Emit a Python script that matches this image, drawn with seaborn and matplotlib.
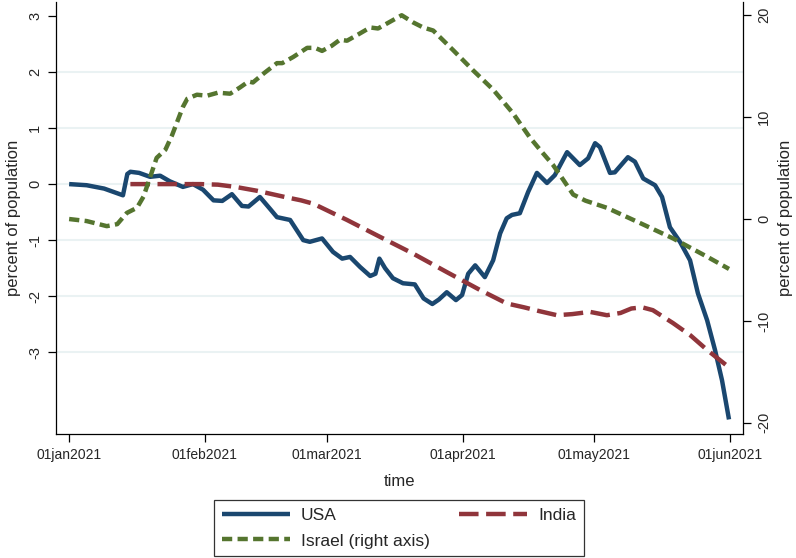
# Stata-style dual axis chart: USA / India (left) vs Israel (right)

import pandas as pd
import seaborn as sns
import matplotlib.pyplot as plt

# Data (day offset from 01jan2021, value)
usa_days = [0, 4, 8, 12.3, 13.3, 14, 16, 18.5, 20.8, 23, 26, 28.3, 30.6, 33, 35, 37.2,
            39.5, 41, 43.6, 46, 47.5, 50.5, 53.5, 55, 57.8, 60.3, 62.4, 64.2, 66.5, 68.8,
            70, 70.9, 72.2, 74, 76.3, 79, 81, 83, 84.5, 86.3, 88.4, 89.8, 91.2, 92.8, 95,
            96.9, 98.5, 100, 101.2, 103, 104.9, 106.9, 109.2, 111, 113.8, 116.7, 118.6,
            120.2, 121.3, 123.6, 124.7, 127.7, 129.3, 131.2, 133.9, 135.5, 137.3, 139.6,
            141.9, 143.7, 145.8, 147.6, 149.2, 150.8]
usa_vals = [0.0, -0.02, -0.08, -0.2, 0.18, 0.22, 0.2, 0.13, 0.15, 0.05, -0.05, 0.0, -0.1,
            -0.29, -0.3, -0.18, -0.39, -0.4, -0.23, -0.45, -0.59, -0.64, -1.0, -1.03, -0.97,
            -1.21, -1.33, -1.3, -1.48, -1.64, -1.6, -1.33, -1.5, -1.68, -1.77, -1.79, -2.04,
            -2.14, -2.06, -1.93, -2.07, -1.98, -1.6, -1.45, -1.66, -1.36, -0.88, -0.61,
            -0.55, -0.52, -0.14, 0.2, 0.02, 0.16, 0.57, 0.34, 0.46, 0.73, 0.66, 0.2, 0.21,
            0.48, 0.4, 0.1, -0.02, -0.23, -0.77, -1.03, -1.36, -1.95, -2.43, -2.96, -3.5,
            -4.2]

india_days = [14, 20, 26, 30, 34, 38, 43, 49.3, 53, 55.8, 63.5, 71, 78.6, 86.3, 93.9, 100,
              104, 107.6, 111.5, 115, 119, 122.9, 126, 128.5, 131, 133.4, 138, 142, 145.8,
              150.8]
india_vals = [0.0, 0.0, 0.0, 0.0, -0.01, -0.05, -0.12, -0.23, -0.29, -0.35, -0.64, -0.94,
              -1.24, -1.57, -1.89, -2.13, -2.2, -2.27, -2.34, -2.32, -2.28, -2.34, -2.3,
              -2.22, -2.2, -2.25, -2.48, -2.7, -2.96, -3.27]

israel_days = [0, 4, 8.6, 11, 13.2, 15.5, 17, 18.5, 20, 22, 23.5, 26, 27, 29.2, 31.5, 34,
               36.8, 39, 41, 42, 44.5, 47.5, 48.7, 51.2, 54.4, 56.2, 57.8, 60, 61.9, 63.5,
               66, 68.8, 70.6, 73.5, 76, 78.6, 80.9, 83.2, 87.7, 92.3, 96.9, 101.4, 105.3,
               108, 110.6, 113, 115.2, 118, 122.9, 130.5, 138, 145.8, 150.8]
israel_vals = [0.0, -0.2, -0.7, -0.5, 0.6, 1.1, 2.2, 4.1, 6.0, 6.8, 8.2, 11.0, 11.8, 12.2,
               12.1, 12.4, 12.3, 12.9, 13.5, 13.4, 14.3, 15.3, 15.3, 15.9, 16.8, 16.8, 16.5,
               17.0, 17.6, 17.5, 18.1, 18.8, 18.7, 19.4, 20.0, 19.3, 18.8, 18.5, 16.6, 14.6,
               12.7, 10.4, 8.0, 6.6, 5.3, 3.8, 2.4, 1.8, 1.1, -0.4, -1.9, -3.7, -4.9]

tick_dates = ['2021-01-01', '2021-02-01', '2021-03-01', '2021-04-01', '2021-05-01', '2021-06-01']
tick_labels = ['01jan2021', '01feb2021', '01mar2021', '01apr2021', '01may2021', '01jun2021']
left_ticks = [-3, -2, -1, 0, 1, 2, 3]
right_ticks = [-20, -10, 0, 10, 20]

start = pd.Timestamp('2021-01-01')


def to_dates(days):
    return start + pd.to_timedelta(days, unit='D')


usa = pd.DataFrame({'time': to_dates(usa_days), 'value': usa_vals})
india = pd.DataFrame({'time': to_dates(india_days), 'value': india_vals})
israel = pd.DataFrame({'time': to_dates(israel_days), 'value': israel_vals})

sns.set_style("white")
plt.rcParams['font.family'] = ['Liberation Sans', 'DejaVu Sans']

c_usa, c_india, c_israel = '#1a476f', '#90353b', '#55752f'

fig = plt.figure(figsize=(7.96, 5.58), dpi=100)
ax = fig.add_axes([56 / 796, 124 / 558, 687 / 796, 432 / 558])
ax2 = ax.twinx()

sns.lineplot(data=usa, x='time', y='value', ax=ax, color=c_usa, linewidth=3.2, label='USA', legend=False)
sns.lineplot(data=india, x='time', y='value', ax=ax, color=c_india, linewidth=3.2, label='India', legend=False)
sns.lineplot(data=israel, x='time', y='value', ax=ax2, color=c_israel, linewidth=3.2,
             label='Israel (right axis)', legend=False)

l_usa, l_india = ax.get_lines()[0], ax.get_lines()[1]
l_israel = ax2.get_lines()[0]
l_india.set_dashes((4.4, 1.7))
l_israel.set_dashes((2.3, 1.2))
for ln in (l_usa, l_india, l_israel):
    ln.set_dash_capstyle('butt')
    ln.set_solid_capstyle('butt')
    ln.set_solid_joinstyle('round')
    ln.set_dash_joinstyle('round')

ax.set_xlim(start - pd.Timedelta(days=3), start + pd.Timedelta(days=154))
ax.set_ylim(-4.46, 3.25)
ax2.set_ylim(-21.1, 21.3)

ax.set_xticks(pd.to_datetime(tick_dates))
ax.set_xticklabels(tick_labels, fontsize=10)
ax.set_yticks(left_ticks)
ax.set_yticklabels([str(t) for t in left_ticks], rotation=90, va='center', fontsize=10.5)
ax2.set_yticks(right_ticks)
ax2.set_yticklabels([str(t) for t in right_ticks], rotation=90, va='center', fontsize=10.5)

ax.set_xlabel('time', fontsize=12, labelpad=9)
ax.set_ylabel('percent of population', fontsize=12, labelpad=5)
ax2.set_ylabel('percent of population', fontsize=12, labelpad=5)

# light horizontal grid, none at the top tick
ax.yaxis.grid(True, color='#eaf2f3', linewidth=1.5)
ax.get_ygridlines()[-1].set_visible(False)
ax.xaxis.grid(False)
ax2.grid(False)
ax.set_axisbelow(True)

for a in (ax, ax2):
    a.spines['top'].set_visible(False)
    for s in ('left', 'right', 'bottom'):
        a.spines[s].set_color('black')
        a.spines[s].set_linewidth(0.9)
    a.tick_params(direction='out', length=6, width=0.9, color='black', pad=4)
ax.spines['right'].set_visible(False)
ax2.spines['left'].set_visible(False)
ax2.spines['bottom'].set_visible(False)
ax.tick_params(axis='y', right=False, left=True)
ax.tick_params(axis='x', bottom=True)

leg = fig.legend(handles=[l_usa, l_israel, l_india],
                 labels=['USA', 'Israel (right axis)', 'India'],
                 ncol=2, loc='lower center', bbox_to_anchor=(399 / 796, 0.003),
                 fontsize=12.5, frameon=True, fancybox=False, handlelength=3.9,
                 handletextpad=0.65, columnspacing=1.7, labelspacing=0.6,
                 borderpad=0.45, borderaxespad=0)
leg.get_frame().set_edgecolor('black')
leg.get_frame().set_linewidth(0.9)

fig.savefig('out.png', dpi=100)
